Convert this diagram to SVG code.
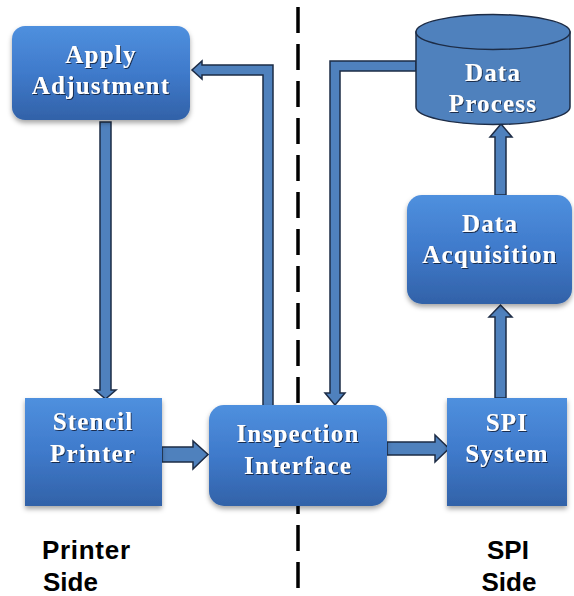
<svg xmlns="http://www.w3.org/2000/svg" width="574" height="596" viewBox="0 0 574 596">
<defs>
<linearGradient id="boxg" x1="0" y1="0" x2="0" y2="1">
<stop offset="0" stop-color="#4f90de"/>
<stop offset="0.5" stop-color="#3f7acb"/>
<stop offset="1" stop-color="#3262a8"/>
</linearGradient>
<filter id="sh" x="-10%" y="-10%" width="125%" height="130%">
<feDropShadow dx="0" dy="3" stdDeviation="2.5" flood-color="#000" flood-opacity="0.35"/>
</filter>
<filter id="tsh" x="-10%" y="-20%" width="120%" height="150%">
<feDropShadow dx="1" dy="1" stdDeviation="0.6" flood-color="#0b1a33" flood-opacity="0.8"/>
</filter>
</defs>
<style>
.box{fill:url(#boxg);filter:url(#sh);}
.arr{fill:#4f81bd;stroke:#1d2c46;stroke-width:1.5;stroke-linejoin:miter;}
.t{font-family:"Liberation Serif","Times New Roman",serif;font-weight:bold;font-size:25px;fill:#ffffff;text-anchor:middle;letter-spacing:1.2px;filter:url(#tsh);}
.lab{font-family:"Liberation Sans",Arial,sans-serif;font-weight:bold;font-size:26px;fill:#000000;}
</style>
<rect width="574" height="596" fill="#ffffff"/>
<line x1="298" y1="7" x2="298" y2="596" stroke="#000" stroke-width="3.5" stroke-dasharray="26 11"/>
<g id="connectors">
<polygon class="arr" points="263,407 263,75 202,75 202,79 192,70 202,61 202,65 273,65 273,407"/>
<polygon class="arr" points="416,61 330,61 330,393 325,393 335,405 345,393 340,393 340,71 416,71"/>
<polygon class="arr" points="100,122 100,390 95,390 105.5,399 116,390 111,390 111,122"/>
<polygon class="arr" points="162,447 193,447 193,441 208,454.5 193,469 193,462 162,462"/>
<polygon class="arr" points="387,442 435,442 435,435 449,448.5 435,462 435,455 387,455"/>
<polygon class="arr" points="495,195 495,137 490,137 501,124 512,137 506,137 506,195"/>
<polygon class="arr" points="495,398 495,317 489,317 500.5,305 512,317 506,317 506,398"/>
</g>
<g id="apply-adjustment">
<rect class="box" x="12" y="26" width="178" height="94" rx="13"/>
<text class="t" x="101" y="63">Apply</text>
<text class="t" x="101" y="94">Adjustment</text>
</g>
<g id="data-process">
<path d="M416,32 L416,107 A77,17.5 0 0 0 570,107 L570,32 Z" fill="#4f81bd" stroke="#1d2c46" stroke-width="1.5"/>
<ellipse cx="493" cy="32" rx="77" ry="17.5" fill="#4f81bd" stroke="#1d2c46" stroke-width="1.5"/>
<text class="t" x="493" y="81">Data</text>
<text class="t" x="493" y="112">Process</text>
</g>
<g id="data-acquisition">
<rect class="box" x="407" y="195" width="165" height="109" rx="15"/>
<text class="t" x="490" y="232">Data</text>
<text class="t" x="490" y="263">Acquisition</text>
</g>
<g id="stencil-printer">
<rect class="box" x="25" y="398" width="137" height="108"/>
<text class="t" x="93" y="430">Stencil</text>
<text class="t" x="93" y="462">Printer</text>
</g>
<g id="inspection-interface">
<rect class="box" x="209" y="405" width="178" height="101" rx="15"/>
<text class="t" x="298" y="442">Inspection</text>
<text class="t" x="298" y="474">Interface</text>
</g>
<g id="spi-system">
<rect class="box" x="447" y="398" width="120" height="108"/>
<text class="t" x="507" y="431">SPI</text>
<text class="t" x="507" y="462">System</text>
</g>
<g id="labels">
<text class="lab" x="42" y="559" textLength="88" lengthAdjust="spacing">Printer</text>
<text class="lab" x="43" y="591">Side</text>
<text class="lab" x="508" y="559" text-anchor="middle">SPI</text>
<text class="lab" x="509" y="591" text-anchor="middle">Side</text>
</g>
</svg>
